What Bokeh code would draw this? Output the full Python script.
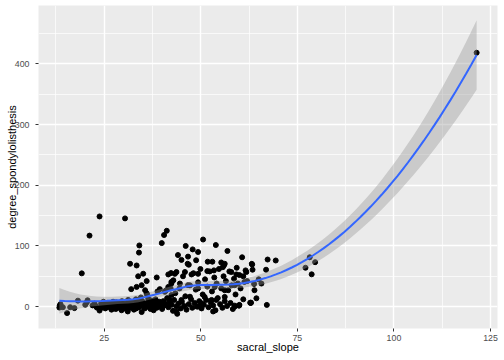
import numpy as np
from bokeh.plotting import figure
from bokeh.models import Range1d, FixedTicker
from bokeh.embed import file_html
from bokeh.resources import INLINE

sacral_slope = [
    13.4, 13.5, 13.7, 14.3, 15.4, 16.2, 17.3, 18.2, 19.2, 20.1, 20.5, 20.7, 21.2, 22.0, 22.5,
    23.8, 30.4, 34.1, 34.0, 39.9, 40.5, 41.2, 31.7, 33.4, 33.8, 35.1, 34.7, 35.6, 36.0, 32.0, 33.4, 39.4, 41.0,
    23.1, 23.8, 24.2, 24.5, 25.0, 25.3, 25.8, 26.2, 26.6, 27.0, 27.3, 27.7, 28.0, 28.3, 28.7, 29.0, 29.3, 29.6,
    30.0, 30.3, 30.7, 31.0, 31.2, 31.5, 31.8, 32.1, 32.4, 32.7, 33.0, 33.2, 33.5, 33.8, 34.0, 34.3, 34.5, 34.7,
    35.0, 35.2, 35.5, 35.8, 36.3, 36.6, 36.9, 37.2, 37.5, 37.8, 38.0, 38.3, 39.1, 39.6, 40.0, 40.3, 40.6,
    25.5, 26.0, 26.9, 27.5, 28.1, 28.5, 29.1, 29.8, 30.5, 30.9, 31.4, 32.0, 32.5, 32.9, 33.3, 33.7, 34.2, 34.8,
    35.3, 35.9, 36.2, 36.8, 37.0, 37.6, 38.2, 38.6, 38.9, 39.3, 39.8, 22.8, 24.0, 24.8, 26.4, 29.5, 31.1, 36.4, 37.3,
    36.0, 36.1, 38.6, 38.8, 41.6, 42.3, 43.7, 42.9, 42.4, 41.3, 41.6, 41.9, 42.2, 42.5, 42.8, 43.1, 43.4, 43.7,
    43.9, 44.2, 44.5, 44.8, 45.1, 45.4, 45.7, 46.0, 46.3, 46.9, 47.2, 47.5, 47.8, 48.1, 48.4, 48.7, 49.0, 49.3,
    49.6, 49.9, 50.2, 50.5, 50.8, 51.1, 51.4, 51.7, 52.0, 52.3, 52.6, 52.9, 53.2, 53.5, 53.8, 54.1, 54.4, 54.7,
    55.0, 55.3, 55.6, 55.9, 56.2, 56.5, 56.8, 57.1, 57.4, 57.7, 58.0, 58.3, 58.6, 58.8, 59.0, 59.3, 59.6, 59.9,
    60.0, 60.3, 61.0, 61.0, 62.0, 65.0,
    44.1, 45.0, 46.1, 46.6, 46.7, 47.9, 48.8, 50.6, 51.8, 53.0, 53.9, 55.3, 56.2, 56.9, 49.3, 46.9, 56.0, 63.2,
    43.3, 45.9, 47.6, 49.3, 51.7, 53.4, 55.7, 57.9, 59.2, 61.8, 42.4, 41.6, 40.7, 44.6, 46.7, 49.3, 53.6, 56.2,
    58.8, 61.3, 42.4, 42.0, 45.0, 47.2, 50.2, 52.8, 54.0, 40.7, 43.7, 49.3, 53.2, 58.8, 60.0, 63.0, 51.0, 56.2,
    60.7, 61.6, 62.8, 63.3, 63.4, 63.8, 63.9, 64.4, 65.7, 66.9, 67.1, 67.3, 69.4, 77.1, 78.2, 78.7, 79.6,
    121.4, 59.9, 62.9,
]
degree_spondylolisthesis = [
    -1.6, 2, 4, -1, -10.7, -1, -2.5, 9.8, 54.8, 3, 7, 10.4, 117, 2, 5,
    148.6, 145.4, 100.8, 89, 104.7, 118, 125, 70.6, 67.8, 50, 54.2, 35.3, 27, 21.8, 28.8, 32.5, 28.8, 26.7,
    -1.6, -6.5, 4.9, 0, 2, -3, 6, 1, -2, 4, 8, 0, -4, 3, 6, 1, -1, 9,
    2, -3, 5, 0, 11, 3, -2, 7, 1, -5, 4, 12, 0, 6, -1, 3, 15, -9,
    8, 1, -3, 5, 0, 10, -2, 4, 7, -6, 2, 12, 0, 5, -4, 9, 2,
    -1, 3, -5, 2, 7, -2, 4, -1, 1, -4, 6, -1, 3, 9, -3, 2, 8, 4,
    -1, 2, 6, 3, -4, 1, 5, -2, 3, 8, 1, 1, -3, 8, 5, -6, -8, 13, 10,
    42, 20, 48, 25, 53, 55.3, 57, 43.4, 38, 14, -1, 6, 30, 3, -7, 11, 22, 0,
    -11.9, 5, 30, -3, 8, 50, 1, 17, -5, 4, 35, 12, -2, 55, 6, 28, 0, 40,
    9, 62, -3, 20, 3, 45, 11, 33, -1, 58, 7, 25, 2, 48, -6, 38, 14, 62,
    4, 30, -2, 50, 9, 42, 1, 27, 58, 6, 35, -4, 46, 1.6, 20, 64, 38, 2,
    52, 30, 50, 12, 42, 45,
    85, 77, 100, 70.6, 82.4, 94.3, 76.4, 110.6, 74, 74, 101.5, 72.7, 70.6, 91.7, 90, 69, 68, 70.5,
    54, 57, 53, 54, 58.5, 59.7, 65, 57, 53, 57, 40.7, 32.5, 24.4, 38, 35.3, 30, 32.5, 27,
    35.3, 40.7, 19, 11, 11, 16.3, 5.5, 11, 11, 5.5, -8, 0, -8, 0, 2.8, 6.5, 16, 16,
    81.3, 59.7, 6.5, 69.4, 60.8, 37.4, 27, 13.7, 38, 60.8, 2.8, 77.6, 76, 64, 81.3, 53.2, 73.2,
    418.5, 1.6, 6,
]
x_ticks = [25, 50, 75, 100, 125]
x_minor = [12.5, 37.5, 62.5, 87.5, 112.5]
y_ticks = [0, 100, 200, 300, 400]
y_minor = [50, 150, 250, 350, 450]

x = np.array(sacral_slope, dtype=float)
y = np.array(degree_spondylolisthesis, dtype=float)
n = len(x)
SPAN = 0.75
q = int(np.floor(n * SPAN))
fc = int(np.floor(n * SPAN * 0.2))


def local_rows(x0):
    """Value and slope rows of the tricube weighted local quadratic at x0."""
    d = np.abs(x - x0)
    h = np.sort(d)[q - 1]
    u = d / h
    w = np.where(u < 1, (1 - u ** 3) ** 3, 0.0)
    X = np.column_stack([np.ones(n), x - x0, (x - x0) ** 2])
    XtW = X.T * w
    sol = np.linalg.solve(XtW @ X, XtW)
    return sol[0], sol[1]


def kd_splits(seg):
    N = len(seg)
    if N <= fc:
        return []
    m = (1 + N) // 2
    off = 0
    while 1 <= m + off < N:
        if seg[m + off - 1] == seg[m + off]:
            off = -off
            if off >= 0:
                off += 1
        else:
            m = m + off
            break
    return kd_splits(seg[:m]) + [seg[m - 1]] + kd_splits(seg[m:])


xs = np.sort(x)
mu = 0.005 * (xs[-1] - xs[0])
verts = np.array([xs[0] - mu] + kd_splits(list(xs)) + [xs[-1] + mu])
vrows = [local_rows(v) for v in verts]


def interp_rows(xq):
    out = []
    for xv in xq:
        j = min(max(np.searchsorted(verts, xv) - 1, 0), len(verts) - 2)
        a, b = verts[j], verts[j + 1]
        hh = b - a
        t = (xv - a) / hh
        h00 = 2 * t ** 3 - 3 * t ** 2 + 1
        h10 = t ** 3 - 2 * t ** 2 + t
        h01 = -2 * t ** 3 + 3 * t ** 2
        h11 = t ** 3 - t ** 2
        out.append(h00 * vrows[j][0] + h10 * hh * vrows[j][1]
                   + h01 * vrows[j + 1][0] + h11 * hh * vrows[j + 1][1])
    return np.array(out)


L = interp_rows(x)
res = y - L @ y
M = np.eye(n) - L
R = M.T @ M
one_delta = np.trace(R)
two_delta = np.trace(R @ R)
s = np.sqrt(res @ res / one_delta)
df = one_delta ** 2 / two_delta
z = 1.959964
tq = z + (z ** 3 + z) / (4 * df)

xg = np.linspace(x.min(), x.max(), 80)
Lg = interp_rows(xg)
fit = Lg @ y
se = s * np.sqrt((Lg ** 2).sum(axis=1))
lo = fit - tq * se
hi = fit + tq * se

x0, x1 = x.min(), x.max()
dx = (x1 - x0) * 0.05
y0, y1 = min(y.min(), lo.min()), max(y.max(), hi.max())
dy = (y1 - y0) * 0.05

p = figure(width=504, height=360, output_backend="svg", toolbar_location=None,
           x_range=Range1d(x0 - dx, x1 + dx), y_range=Range1d(y0 - dy, y1 + dy),
           min_border_left=38, min_border_right=7, min_border_top=5, min_border_bottom=32)
p.background_fill_color = "#EBEBEB"
p.border_fill_color = "white"
p.outline_line_color = None

p.xaxis.ticker = FixedTicker(ticks=x_ticks, minor_ticks=x_minor)
p.yaxis.ticker = FixedTicker(ticks=y_ticks, minor_ticks=y_minor)
for g in (p.xgrid, p.ygrid):
    g.grid_line_color = "white"
    g.grid_line_width = 1.4
    g.minor_grid_line_color = "white"
    g.minor_grid_line_width = 0.7
for ax in (p.xaxis, p.yaxis):
    ax.axis_line_color = None
    ax.major_tick_line_color = "#333333"
    ax.major_tick_in = 0
    ax.major_tick_out = 3
    ax.minor_tick_line_color = None
    ax.major_label_text_font = "Liberation Sans"
    ax.major_label_text_font_size = "8.8px"
    ax.major_label_text_color = "#4D4D4D"
    ax.axis_label_text_font = "Liberation Sans"
    ax.axis_label_text_font_size = "11px"
    ax.axis_label_text_font_style = "normal"
    ax.axis_label_text_color = "black"
p.xaxis.major_label_standoff = 2
p.xaxis.axis_label_standoff = -3
p.yaxis.major_label_standoff = 5
p.yaxis.axis_label_standoff = -6
p.xaxis.axis_label = "sacral_slope"
p.yaxis.axis_label = "degree_spondylolisthesis"

p.scatter(x, y, size=5, color="black")
p.varea(x=xg, y1=lo, y2=hi, fill_color="#999999", fill_alpha=0.4)
p.line(xg, fit, line_color="#3366FF", line_width=2)

open("out.html", "w").write(file_html(p, INLINE))
